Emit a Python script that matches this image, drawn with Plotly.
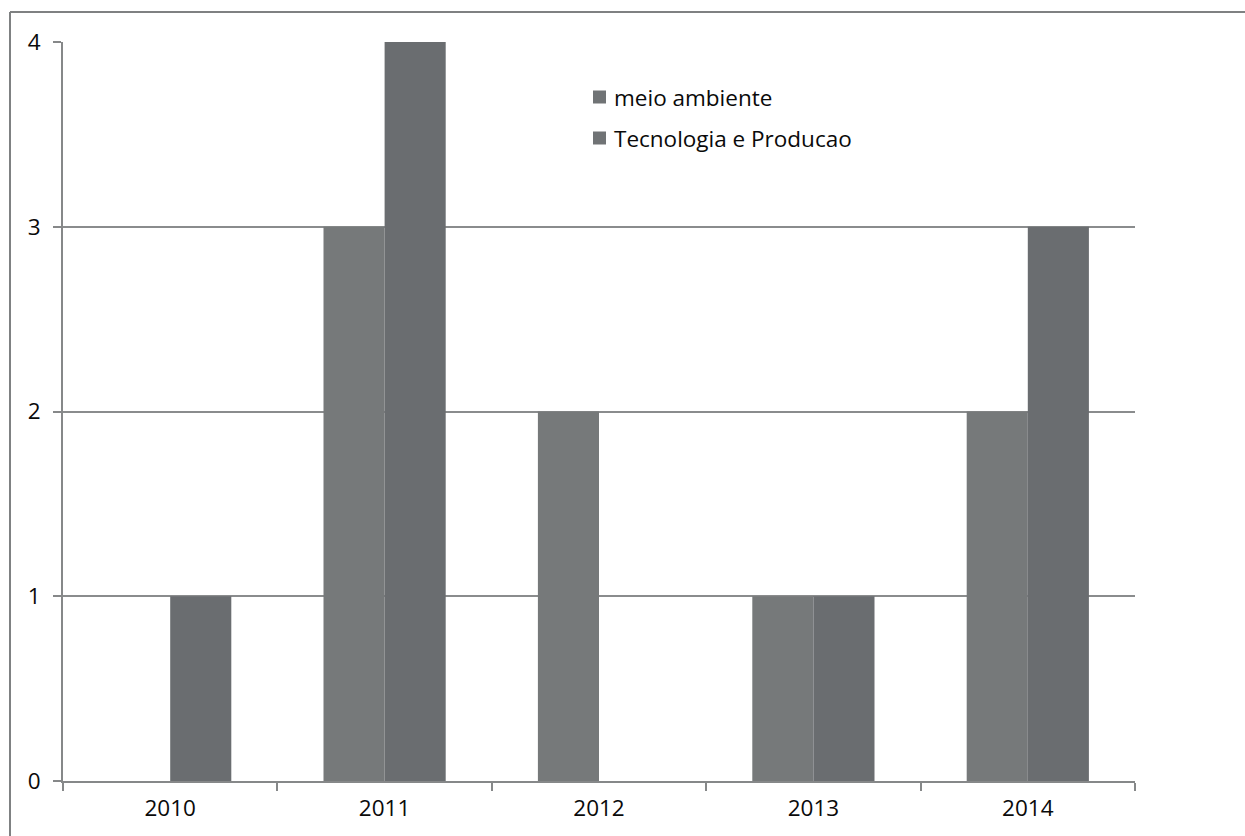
import plotly.graph_objects as go

years = ["2010", "2011", "2012", "2013", "2014"]
meio_ambiente = [0, 3, 2, 1, 2]
tecnologia_producao = [1, 4, 0, 1, 3]
y_ticks = [0, 1, 2, 3, 4]
series_names = ["meio ambiente", "Tecnologia e Producao"]
series_colors = ["#76797a", "#6a6d70"]

W, H = 1245, 836
L, R, T, B = 63, 110, 42, 55
pw, ph = W - L - R, H - T - B

font = dict(family="'Open Sans', sans-serif", size=22.5, color="#0a0a0a")


def px_x(x):
    return (x - L) / pw


def px_y(y):
    return 1 - (y - T) / ph


fig = go.Figure()
for name, vals, col in zip(series_names, [meio_ambiente, tecnologia_producao], series_colors):
    fig.add_trace(go.Bar(x=years, y=vals, name=name,
                         marker=dict(color=col, line=dict(width=0)),
                         showlegend=False))

# legend: square swatch + label per series
for i, (name, col) in enumerate(zip(series_names, series_colors)):
    cy = 97 + i * 41
    fig.add_shape(type="rect", xref="paper", yref="paper",
                  x0=px_x(593), x1=px_x(606), y0=px_y(cy - 6.5), y1=px_y(cy + 6.5),
                  fillcolor="#707375", line=dict(width=0))
    fig.add_annotation(xref="paper", yref="paper", x=px_x(612), y=px_y(cy),
                       xanchor="left", yanchor="middle", text=name,
                       showarrow=False, font=font)

# outer frame lines (top and left)
fig.add_shape(type="line", xref="paper", yref="paper",
              x0=px_x(10), x1=px_x(W), y0=px_y(12), y1=px_y(12),
              line=dict(color="#7f8182", width=2))
fig.add_shape(type="line", xref="paper", yref="paper",
              x0=px_x(10), x1=px_x(10), y0=px_y(12), y1=px_y(H),
              line=dict(color="#7f8182", width=2))

fig.update_layout(
    width=W, height=H,
    margin=dict(l=L, r=R, t=T, b=B),
    paper_bgcolor="white", plot_bgcolor="white",
    barmode="group", bargap=0.43, bargroupgap=0,
    font=font,
    showlegend=False,
    xaxis=dict(type="category", showline=True, linecolor="#868889", linewidth=2,
               ticks="outside", ticklen=8, tickcolor="#868889", tickwidth=2,
               tickson="boundaries", showgrid=False, tickfont=font,
               ticklabelstandoff=6, fixedrange=True),
    yaxis=dict(range=[0, 4], tickvals=y_ticks, showline=True, linecolor="#868889",
               linewidth=2, showgrid=True, gridcolor="#8a8c8d", gridwidth=2,
               ticks="outside", ticklen=8, tickcolor="#868889", tickwidth=2,
               zeroline=False, tickfont=font, ticklabelstandoff=8, fixedrange=True),
)

fig.write_html("out.html")
